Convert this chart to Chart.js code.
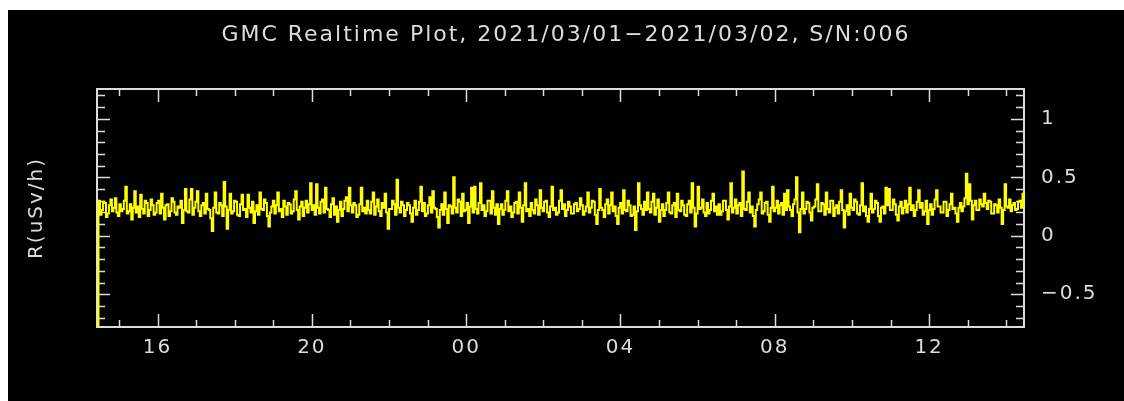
<!DOCTYPE html>
<html>
<head>
<meta charset="utf-8">
<script src="https://cdn.jsdelivr.net/npm/chart.js@4"></script>
<style>
  html, body { margin: 0; padding: 0; background: #fff; }
  #frame { position: absolute; left: 8px; top: 10px; width: 1116px; height: 391px; background: #000; }
  canvas { display: block; }
</style>
</head>
<body>
<div id="frame"><canvas id="plot" width="1116" height="391"></canvas></div>
<script>
// ---- data (dose rate, uSv/h) in three stretches of ~8 h ----
var titleText = "GMC Realtime Plot, 2021/03/01\u22122021/03/02, S/N:006";
var yTitle = "R(uSv/h)";

var hourStart = 14.43;   // 14:26 on 03/01
var hourEnd = 38.46;     // 14:28 on 03/02
var firstReading = -1.0; // start-up reading, off the bottom of the plot

// 14:26 - 22:30
var rateA = [
  0.30,0.18,0.22,0.29,0.28,0.16,0.19,0.26,0.31,0.21,0.24,0.32,0.20,0.17,0.27,0.21,0.23,0.30,0.42,0.19,
  0.21,0.27,0.14,0.24,0.38,0.20,0.25,0.16,0.35,0.23,0.19,0.30,0.28,0.17,0.22,0.31,0.26,0.18,0.20,0.28,
  0.30,0.19,0.36,0.24,0.14,0.26,0.27,0.17,0.21,0.32,0.29,0.20,0.18,0.25,0.24,0.30,0.11,0.22,0.40,0.21,
  0.20,0.31,0.40,0.18,0.24,0.29,0.38,0.21,0.17,0.26,0.28,0.19,0.36,0.23,0.22,0.15,0.04,0.24,0.37,0.20,
  0.19,0.28,0.26,0.17,0.46,0.25,0.06,0.22,0.36,0.19,0.21,0.30,0.29,0.18,0.17,0.27,0.35,0.22,0.23,0.16,
  0.35,0.24,0.20,0.29,0.11,0.21,0.26,0.18,0.37,0.23,0.22,0.31,0.28,0.17,0.08,0.20,0.25,0.30,0.19,0.26,
  0.37,0.21,0.23,0.16,0.30,0.25,0.18,0.28,0.27,0.19,0.21,0.31,0.38,0.22,0.14,0.25,0.29,0.17,0.24,0.30,
  0.20,0.27,0.45,0.22,0.26,0.18,0.44,0.24,0.19,0.29,0.31,0.20,0.41,0.23,0.22,0.16,0.27,0.32,0.18,0.25,
  0.12,0.22,0.29,0.17,0.23,0.30,0.33,0.21,0.41,0.26,0.20,0.28,0.26,0.16,0.18,0.27,0.41,0.21,0.24,0.19,
  0.30,0.22,0.19,0.29,0.37,0.18,0.25,0.31,0.21,0.17,0.28,0.24,0.36,0.20,0.06,0.23,0.23,0.30,0.27,0.18,
  0.48,0.24,0.20,0.29,0.26,0.17,0.22,0.28
];
// 22:30 - 06:30
var rateB = [
  0.26,0.19,0.12,0.24,0.30,0.18,0.22,0.29,0.42,0.21,0.28,0.17,0.19,0.26,0.33,0.20,0.38,0.24,0.23,0.16,
  0.07,0.22,0.27,0.18,0.37,0.23,0.11,0.26,0.25,0.19,0.50,0.24,0.20,0.31,0.29,0.17,0.36,0.21,0.22,0.28,
  0.11,0.25,0.41,0.20,0.42,0.23,0.19,0.28,0.45,0.22,0.26,0.17,0.21,0.30,0.30,0.19,0.38,0.24,0.18,0.27,
  0.10,0.23,0.27,0.18,0.22,0.30,0.38,0.21,0.25,0.16,0.20,0.28,0.29,0.19,0.37,0.24,0.12,0.26,0.45,0.21,
  0.23,0.17,0.28,0.22,0.19,0.31,0.26,0.18,0.39,0.24,0.21,0.29,0.30,0.20,0.16,0.25,0.42,0.22,0.24,0.18,
  0.20,0.30,0.39,0.23,0.27,0.17,0.22,0.29,0.25,0.19,0.19,0.27,0.28,0.21,0.23,0.32,0.26,0.18,0.21,0.25,
  0.37,0.20,0.24,0.30,0.29,0.18,0.10,0.22,0.40,0.24,0.22,0.16,0.27,0.31,0.19,0.26,0.37,0.21,0.25,0.17,
  0.10,0.24,0.28,0.19,0.39,0.22,0.21,0.30,0.26,0.17,0.18,0.25,0.05,0.21,0.45,0.26,0.23,0.18,0.29,0.22,
  0.37,0.23,0.20,0.29,0.36,0.18,0.24,0.31,0.12,0.22,0.27,0.17,0.22,0.28,0.37,0.20,0.19,0.26,0.28,0.16,
  0.36,0.22,0.21,0.30,0.26,0.18,0.17,0.27,0.30,0.20,0.45,0.24,0.08,0.19,0.42,0.23,0.24,0.31,0.20,0.17,
  0.28,0.19,0.22,0.30,0.36,0.21,0.25,0.18
];
// 06:30 - 14:28
var rateC = [
  0.27,0.18,0.21,0.30,0.30,0.22,0.14,0.25,0.45,0.20,0.24,0.31,0.19,0.26,0.28,0.17,0.55,0.23,0.22,0.29,
  0.37,0.20,0.25,0.17,0.08,0.22,0.27,0.31,0.37,0.19,0.21,0.28,0.29,0.18,0.12,0.24,0.42,0.21,0.24,0.30,
  0.19,0.26,0.28,0.18,0.36,0.22,0.39,0.25,0.22,0.17,0.27,0.31,0.50,0.20,0.03,0.23,0.37,0.19,0.23,0.29,
  0.28,0.20,0.13,0.24,0.25,0.31,0.44,0.21,0.21,0.28,0.27,0.18,0.37,0.23,0.20,0.30,0.30,0.17,0.24,0.26,
  0.19,0.29,0.39,0.22,0.07,0.21,0.26,0.18,0.36,0.24,0.22,0.31,0.29,0.19,0.18,0.26,0.45,0.21,0.25,0.17,
  0.12,0.23,0.36,0.20,0.23,0.30,0.28,0.17,0.12,0.24,0.25,0.19,0.41,0.26,0.40,0.22,0.22,0.31,0.27,0.18,
  0.13,0.25,0.29,0.19,0.24,0.30,0.20,0.27,0.41,0.22,0.26,0.17,0.22,0.29,0.39,0.24,0.28,0.18,0.21,0.30,
  0.10,0.22,0.27,0.18,0.23,0.31,0.39,0.25,0.25,0.20,0.20,0.29,0.29,0.17,0.22,0.27,0.36,0.23,0.24,0.19,
  0.12,0.24,0.28,0.21,0.25,0.32,0.53,0.27,0.44,0.30,0.14,0.26,0.30,0.22,0.22,0.31,0.27,0.25,0.36,0.28,
  0.23,0.30,0.29,0.19,0.19,0.27,0.26,0.20,0.31,0.24,0.10,0.22,0.44,0.25,0.24,0.31,0.21,0.26,0.28,0.22,
  0.23,0.29,0.30,0.24,0.36,0.27
];

// axis ticks
var xMajor = [16, 20, 24, 28, 32, 36];
var xMinor = [15,16,17,18,19,20,21,22,23,24,25,26,27,28,29,30,31,32,33,34,35,36,37,38];
var yMajor = [-0.5, 0, 0.5, 1];
var yMinor = [-0.7,-0.6,-0.5,-0.4,-0.3,-0.2,-0.1,0,0.1,0.2,0.3,0.4,0.5,0.6,0.7,0.8,0.9,1.0,1.1,1.2];
var yMin = -0.78, yMax = 1.255;

var FG = "#dcdcdc";
var FONT = "'DejaVu Sans', Verdana, sans-serif";

// build the time series: readings are evenly spaced across the window
var readings = rateA.concat(rateB, rateC);
var step = (hourEnd - hourStart) / readings.length;
var points = [{ x: hourStart, y: firstReading }];
readings.forEach(function (v, i) {
  points.push({ x: hourStart + (i + 1) * step, y: v });
});

function hourLabel(h) {
  var v = Math.round(h) % 24;
  return (v < 10 ? "0" : "") + v;
}
function numLabel(v) {
  var s = String(Math.round(v * 10) / 10);
  return s.replace("-", "\u2212");
}

// wide, spaced-out lettering like the IDL vector font
var spacedText = {
  id: "spacedText",
  beforeDraw: function (chart) { chart.ctx.letterSpacing = "2px"; }
};

// frame + inward-pointing ticks on all four sides, IDL style (under the trace)
var idlFrame = {
  id: "idlFrame",
  beforeDatasetsDraw: function (chart) {
    var ctx = chart.ctx, a = chart.chartArea;
    var xs = chart.scales.x, ys = chart.scales.y;
    ctx.save();
    ctx.strokeStyle = FG;
    ctx.lineWidth = 1.5;
    ctx.beginPath();
    xMinor.forEach(function (h) {
      var px = Math.round(xs.getPixelForValue(h)) + 0.5;
      var len = xMajor.indexOf(h) >= 0 ? 13 : 7;
      ctx.moveTo(px, a.top); ctx.lineTo(px, a.top + len);
      ctx.moveTo(px, a.bottom); ctx.lineTo(px, a.bottom - len);
    });
    yMinor.forEach(function (v) {
      var py = Math.round(ys.getPixelForValue(v)) + 0.5;
      var major = yMajor.some(function (m) { return Math.abs(m - v) < 1e-6; });
      var len = major ? 13 : 8;
      ctx.moveTo(a.left, py); ctx.lineTo(a.left + len, py);
      ctx.moveTo(a.right, py); ctx.lineTo(a.right - len, py);
    });
    ctx.stroke();
    ctx.lineWidth = 2;
    ctx.strokeRect(Math.round(a.left), Math.round(a.top),
                   Math.round(a.right - a.left), Math.round(a.bottom - a.top));
    ctx.restore();
  }
};

new Chart(document.getElementById("plot"), {
  type: "line",
  data: {
    datasets: [{
      data: points,
      borderColor: "#ffff00",
      borderWidth: 2,
      pointRadius: 0,
      stepped: "before",
      clip: 1,
      fill: false
    }]
  },
  options: {
    responsive: false,
    animation: false,
    events: [],
    layout: { padding: 0 },
    plugins: {
      legend: { display: false },
      tooltip: { enabled: false },
      title: {
        display: true,
        text: titleText,
        color: FG,
        font: { family: FONT, size: 22, weight: "normal", lineHeight: 1.2 },
        padding: { top: 12, bottom: 40.6 }
      }
    },
    scales: {
      x: {
        type: "linear",
        position: "bottom",
        min: hourStart,
        max: hourEnd,
        grid: { display: false, drawTicks: false },
        border: { display: false },
        afterBuildTicks: function (s) { s.ticks = xMajor.map(function (v) { return { value: v }; }); },
        afterFit: function (s) { s.height = 74; },
        ticks: {
          color: FG,
          padding: 9,
          maxRotation: 0,
          autoSkip: false,
          font: { family: FONT, size: 20 },
          callback: function (v) { return hourLabel(v); }
        }
      },
      y: {
        type: "linear",
        position: "right",
        min: yMin,
        max: yMax,
        grid: { display: false, drawTicks: false },
        border: { display: false },
        afterBuildTicks: function (s) { s.ticks = yMajor.map(function (v) { return { value: v }; }); },
        afterFit: function (s) { s.width = 100; },
        ticks: {
          color: FG,
          padding: 17,
          autoSkip: false,
          font: { family: FONT, size: 20 },
          callback: function (v) { return numLabel(v); }
        }
      },
      yl: {
        type: "linear",
        position: "left",
        min: yMin,
        max: yMax,
        grid: { display: false, drawTicks: false },
        border: { display: false },
        ticks: { display: false },
        afterFit: function (s) { s.width = 89; },
        title: {
          display: true,
          text: yTitle,
          color: FG,
          font: { family: FONT, size: 20 },
          padding: { top: 17, bottom: 0 }
        }
      }
    }
  },
  plugins: [spacedText, idlFrame]
});
</script>
</body>
</html>
